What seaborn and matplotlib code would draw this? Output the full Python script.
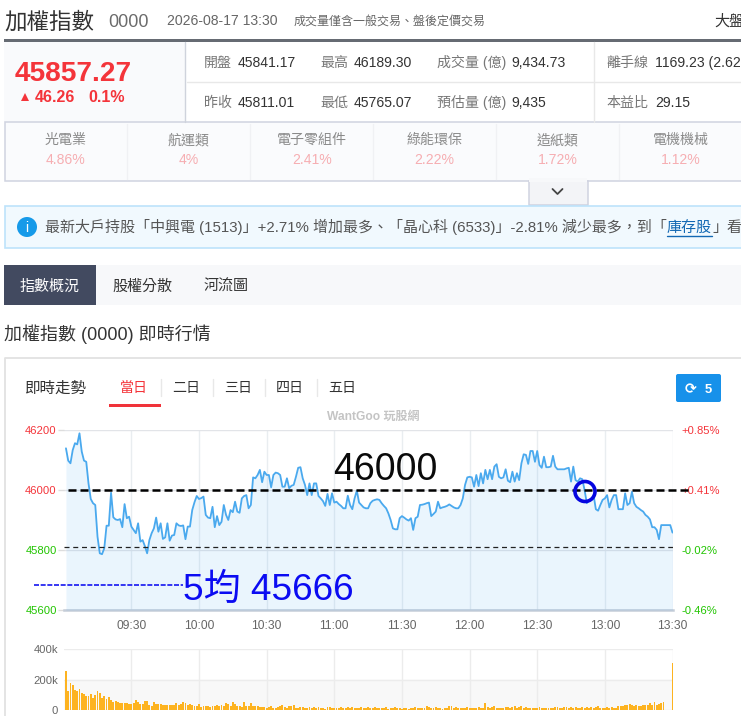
import numpy as np
import pandas as pd
import matplotlib
matplotlib.use('Agg')
import matplotlib.pyplot as plt
from matplotlib.patches import Rectangle, Circle, FancyBboxPatch
import seaborn as sns

# index close per minute, 09:01 - 13:30
prices = [
    46139, 46098, 46089, 46133, 46156, 46152, 46189, 46128, 46098, 46094,
    46022, 45970, 45956, 45950, 45844, 45789, 45786, 45806, 45881, 45881,
    45991, 45909, 45902, 45900, 45903, 45876, 45953, 45906, 45911, 45878,
    45867, 45856, 45889, 45828, 45833, 45813, 45789, 45833, 45856, 45872,
    45908, 45861, 45889, 45837, 45842, 45889, 45831, 45848, 45850, 45889,
    45882, 45880, 45882, 45836, 45878, 45878, 45933, 45959, 45980, 45970,
    45973, 45978, 45917, 45908, 45906, 45944, 45876, 45913, 45883, 45894,
    45950, 45917, 45900, 45933, 45926, 45961, 45928, 45924, 45972, 45980,
    45983, 45939, 45950, 46042, 46039, 46050, 46067, 46026, 46061, 46050,
    46050,
    46009, 46050, 46058, 46056, 46050, 46011, 46011, 46039, 46006, 46014,
    46017, 46044, 46074, 46076, 46039, 46017, 45983, 46022, 45983, 46022,
    46022, 45980, 45972, 45963, 45947, 45987, 45950, 45989, 45958, 45961,
    45953, 45947, 45939, 45939, 45981, 45950, 45936, 45972, 45998, 45958,
    45950, 45942, 45939, 45939, 45956, 45964, 45967, 45969, 45967, 45956,
    45947, 45939, 45922, 45900, 45872, 45869, 45869, 45906, 45913, 45908,
    45902, 45898, 45906, 45867, 45906, 45911, 45950, 45951, 45953, 45956,
    45958, 45913, 45920, 45928, 45961, 45939, 45942, 45944, 45947, 45952,
    45947, 45942, 45939, 45939, 45950, 45972, 46017, 46042, 46044, 46042,
    46011, 46050, 46013, 46056, 46022, 46067, 46036, 46067, 46036, 46078,
    46086, 46044,
    46039, 46042, 46069, 46031, 46026, 46061, 46028, 46056, 46033, 46089,
    46119, 46117, 46087, 46130, 46130, 46094, 46130, 46083, 46074, 46111,
    46076, 46076, 46078, 46114, 46078, 46069, 46069, 46069, 46069, 46072,
    46074, 46028, 46078, 46033, 46028, 46039, 46036, 46000, 45956, 45967,
    45967, 45983, 45936, 45931, 45950, 45967, 45972, 45983, 45942, 45967,
    45983, 45983, 45936, 45936, 45936, 45989, 45950, 45956, 45994, 45956,
    45944, 45939, 45933, 45928, 45917, 45911, 45902, 45876, 45876, 45867,
    45836, 45883, 45883, 45883, 45883, 45883, 45858,
]

# volume per minute, thousands
volumes = [
    257, 125, 176, 165, 132, 125, 139, 110, 103, 95,
    93, 103, 81, 99, 125, 110, 77, 90, 73, 84,
    68, 55, 59, 55, 44, 46, 46, 46, 42, 42,
    48, 64, 51, 37, 42, 59, 59, 33, 29, 53,
    37, 40, 40, 31, 35, 35, 33, 33, 35, 46,
    33, 40, 55, 44, 35, 40, 33, 26, 29, 40,
    18, 24, 26, 24, 22, 29, 29, 33, 26, 33,
    26, 46, 40, 24, 51, 40, 26, 29, 22, 51,
    24, 29, 46, 29, 29, 24, 22, 22, 20, 13,
    20, 24, 11, 15, 22, 29, 35, 20, 15, 26,
    24, 31, 15, 13, 20, 18, 11, 15, 20, 13,
    18, 15, 20, 11, 13, 9, 18, 20, 13, 15,
    11, 15, 22, 13, 11, 18, 15, 20, 13, 15,
    11, 18, 15, 13, 22, 11, 15, 18, 11, 15,
    11, 13, 18, 9, 13, 15, 18, 13, 11, 9,
    15, 13, 9, 11, 13, 20, 15, 11, 13, 15,
    26, 18, 13, 11, 22, 15, 11, 9, 13, 15,
    24, 26, 15, 20, 15, 13, 15, 15, 18, 11,
    13, 15, 15, 20, 15, 15, 44, 20, 13, 20,
    24, 13, 11, 13, 13, 18, 18, 13, 20, 24,
    15, 22, 24, 13, 22, 13, 13, 11, 11, 11,
    18, 15, 13, 11, 13, 11, 11, 20, 18, 13,
    15, 22, 20, 13, 22, 15, 18, 13, 13, 18,
    15, 20, 11, 22, 15, 18, 24, 13, 13, 15,
    18, 11, 22, 15, 15, 24, 24, 26, 33, 33,
    37, 33, 29, 33, 29, 26, 33, 35, 31, 46,
    35, 53, 33, 40, 46, 53, 0, 0, 0, 310,
]

time_labels = ['09:30', '10:00', '10:30', '11:00', '11:30', '12:00', '12:30', '13:00', '13:30']
price_ticks = [46200, 46000, 45800, 45600]
pct_labels = ['+0.85%', '+0.41%', '-0.02%', '-0.46%']
prev_close = 45811.01
vol_ticks = [0, 200, 400]
vol_labels = ['0', '200k', '400k']

sectors = ['光電業', '航運類', '電子零組件', '綠能環保', '造紙類', '電機機械']
sector_pcts = ['4.86%', '4%', '2.41%', '2.22%', '1.72%', '1.12%']

sns.set_theme(style="white")
# Arial-like latin, CJK from Noto
plt.rcParams['font.family'] = ['Liberation Sans', 'Noto Sans CJK TC', 'DejaVu Sans']

W, H = 741, 716
RED, GREEN = '#f4343a', '#21c400'
fig = plt.figure(figsize=(W / 100, H / 100), dpi=100, facecolor='white')


def box(left, top, right, bottom):
    return [left / W, 1 - bottom / H, (right - left) / W, (bottom - top) / H]


df = pd.DataFrame({'minute': np.arange(1, len(prices) + 1), 'price': prices, 'volume': volumes})
tick_pos = [30 * (i + 1) for i in range(len(time_labels))]

# price panel
ax = fig.add_axes(box(63.7, 430, 672.5, 610))
sns.lineplot(data=df, x='minute', y='price', ax=ax, color='#4aa9ee', linewidth=1.3, zorder=4)
ax.fill_between(df['minute'], df['price'], 45600, color='#2196f3', alpha=0.09, lw=0, zorder=3)
ax.set_xlim(0, 270)
ax.set_ylim(45600, 46200)
ax.set_xlabel('')
ax.set_ylabel('')
ax.set_xticks(tick_pos, time_labels)
ax.set_yticks(price_ticks, [str(p) for p in price_ticks])
ax.tick_params(axis='x', colors='#c5cdd8', length=4, width=1, labelsize=8.64, labelcolor='#666666', pad=3)
ax.tick_params(axis='y', length=4, width=1, color='#dddddd', labelsize=8.1, pad=1)
for lab, c in zip(ax.get_yticklabels(), [RED, RED, GREEN, GREEN]):
    lab.set_color(c)
ax.set_axisbelow(True)
ax.grid(axis='x', color='#e9edf0', lw=1)
ax.grid(axis='y', color='#e2e4e8', lw=1)
sns.despine(ax=ax, left=True, top=True, right=True)
ax.spines['bottom'].set_color('#c5cdd8')
ax.spines['bottom'].set_linewidth(1.8)
ax.axhline(prev_close, color='#222222', lw=0.9, ls=(0, (4, 3)), zorder=5)

ax_r = ax.twinx()
ax_r.set_ylim(45600, 46200)
ax_r.set_yticks(price_ticks, pct_labels)
ax_r.tick_params(axis='y', length=0, labelsize=8.1, pad=6.5)
for lab, c in zip(ax_r.get_yticklabels(), [RED, RED, GREEN, GREEN]):
    lab.set_color(c)
ax_r.grid(False)
sns.despine(ax=ax_r, left=True, top=True, right=True, bottom=True)

# volume panel
ax2 = fig.add_axes(box(63.7, 649.3, 672.5, 710))
ax2.axhspan(0, 200, color='#f8f8f8', zorder=0)
sns.barplot(data=df, x='minute', y='volume', ax=ax2, native_scale=True, color='#fdb320',
            saturation=1, width=0.85, linewidth=0, zorder=3)
ax2.set_xlim(0, 270)
ax2.set_ylim(0, 400)
ax2.set_xlabel('')
ax2.set_ylabel('')
ax2.set_xticks(tick_pos, [''] * len(tick_pos))
ax2.set_yticks(vol_ticks, vol_labels)
ax2.tick_params(axis='both', length=0)
ax2.tick_params(axis='y', labelsize=8.1, labelcolor='#666666', pad=4)
ax2.set_axisbelow(True)
ax2.grid(color='#ececec', lw=1)
sns.despine(ax=ax2, left=True, top=True, right=True, bottom=True)

# page furniture in pixel coordinates
ui = fig.add_axes([0, 0, 1, 1], zorder=10)
ui.set_xlim(0, W)
ui.set_ylim(H, 0)
ui.axis('off')


def txt(x, y, s, px, color='#333333', ha='left', **kw):
    # y is the visual middle of the line, baseline keeps mixed fonts level
    ui.text(x, y + 0.36 * px, s, fontsize=px * 0.72, color=color, ha=ha, va='baseline', **kw)


def rect(left, top, right, bottom, fc='none', ec='none', lw=1.0, z=1):
    ui.add_patch(Rectangle((left, top), right - left, bottom - top, fc=fc, ec=ec, lw=lw, zorder=z))


# header
txt(4, 21, '加權指數', 22.5, '#333333')
txt(108, 21, '0000', 18, '#6b6b6b')
txt(167, 20, '2026-08-17 13:30', 14, '#666666')
txt(294, 20, '成交量僅含一般交易、盤後定價交易', 12, '#666666')
txt(714, 20, '大盤', 15, '#333333')
rect(4, 39, W + 2, 42, fc='#666b73')

# quote box
rect(4, 42, 185, 122, fc='#f9fafc')
txt(15, 71, '45857.27', 28, RED, fontweight='bold')
ui.plot([25], [96.5], marker='^', ms=5.5, color=RED, ls='none', mew=0)
txt(35, 96, '46.26', 16, RED, fontweight='bold')
txt(88, 96, '0.1%', 16, RED, fontweight='bold')
ui.plot([185, 185], [42, 122], color='#cfd3dc', lw=1)
ui.plot([187, W], [82, 82], color='#e8e8e8', lw=1)
ui.plot([594, 594], [42, 122], color='#e8e8e8', lw=1)

rows = [
    (62, [(204, '開盤', 238, '45841.17'), (320, '最高', 354, '46189.30'),
          (437, '成交量 (億)', 511, '9,434.73'), (606, '離手線', 655, '1169.23 (2.62%)')]),
    (102, [(204, '昨收', 238, '45811.01'), (320, '最低', 354, '45765.07'),
           (437, '預估量 (億)', 511, '9,435'), (606, '本益比', 655, '29.15')]),
]
for y, cells in rows:
    for lx, label, vx, value in cells:
        txt(lx, y, label, 14, '#777777')
        txt(vx, y, value, 14, '#333333')

# sector strip
rect(4.5, 122, W + 5, 181, fc='#fafbfd', ec='#d0d3e0', lw=1.1)
for i, (name, pct) in enumerate(zip(sectors, sector_pcts)):
    cx = 66 + i * 122.9
    txt(cx, 139, name, 14, '#8a8a8a', ha='center')
    txt(cx, 159, pct, 14, '#f6aeb2', ha='center')
    if i:
        ui.plot([cx - 61.5] * 2, [124, 179], color='#f0f1f4', lw=1)
rect(528.5, 181, 587.5, 205, fc='#f3f4f7', ec='#d0d3e0', lw=1.1)
rect(529.2, 178, 586.8, 182, fc='#f7f8fa', z=2)
ui.plot([552.5, 557.5, 562.5], [189, 194, 189], color='#444444', lw=1.3, zorder=3)

# notice bar
rect(4.5, 206, W + 5, 248, fc='#f1f9fe', ec='#bde3fb', lw=1.2)
ui.add_patch(Circle((27, 227), 10, fc='#169ae9', ec='none', zorder=2))
txt(27, 227, 'i', 14, 'white', ha='center', zorder=3)
txt(45, 227, '最新大戶持股「中興電 (1513)」+2.71% 增加最多、「晶心科 (6533)」-2.81% 減少最多，到「', 15, '#555555')
txt(667, 227, '庫存股', 15, '#1268b3')
ui.plot([667, 712], [236, 236], color='#1268b3', lw=1)
txt(712, 227, '」看', 15, '#555555')

# tabs
rect(4, 265, W + 2, 305, fc='#f7f8fa')
rect(4, 265, 96, 305, fc='#424a60', z=2)
txt(50, 285, '指數概況', 15, 'white', ha='center', zorder=3)
txt(142, 285, '股權分散', 15, '#333333', ha='center')
txt(226, 285, '河流圖', 15, '#333333', ha='center')
txt(4, 334, '加權指數 (0000) 即時行情', 18, '#333333')

# chart card
ui.plot([4.5, 4.5, W + 2], [H + 2, 357.5, 357.5], color='#e2e2e2', lw=1.3)
txt(25, 387, '即時走勢', 15.5, '#333333')
for cx, label, c in zip([134, 186, 238, 290, 342], ['當日', '二日', '三日', '四日', '五日'],
                        [RED, '#333333', '#333333', '#333333', '#333333']):
    txt(cx, 387, label, 14, c, ha='center')
for sx in [161, 213, 265, 317]:
    ui.plot([sx, sx], [379, 396], color='#e8e8e8', lw=1)
rect(109, 404, 161, 407, fc='#f0333a')
ui.add_patch(FancyBboxPatch((676, 374), 45, 28, boxstyle='round,pad=0,rounding_size=2', fc='#1791ea', ec='none'))
txt(691, 388, '⟳', 14, 'white', ha='center', fontweight='bold', family='DejaVu Sans')
txt(708, 388, '5', 13, 'white', ha='center', fontweight='bold')
txt(373, 416, 'WantGoo 玩股網', 12, '#c4c4c4', ha='center', fontweight='bold')

# hand annotations on the screenshot
ui.plot([68, 690], [490, 490], color='black', lw=1.8, ls=(0, (3.2, 1.6)), zorder=6)
txt(385, 467, '46000', 37.5, '#0a0a0a', ha='center', zorder=7)
ui.plot([34, 183], [585, 585], color='#1515f0', lw=1.2, ls=(0, (3, 1)), zorder=6)
txt(183, 587, '5均 45666', 37, '#0b0bf2', zorder=7)
ui.add_patch(Circle((585, 491.5), 10, fc='none', ec='#0505e0', lw=2.6, zorder=7))

fig.savefig('out.png', dpi=100)
